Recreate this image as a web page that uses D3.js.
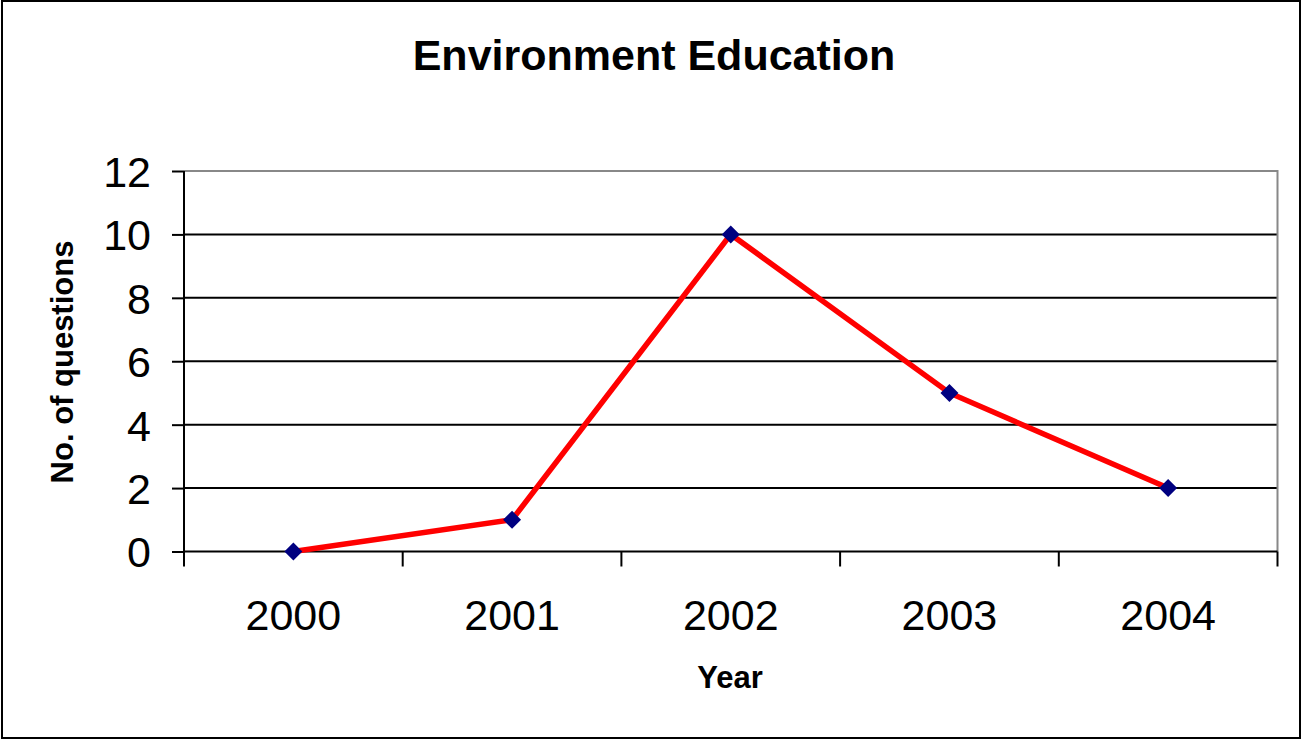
<!DOCTYPE html>
<html><head><meta charset="utf-8">
<script src="https://cdn.jsdelivr.net/npm/d3@7"></script>
<style>body{margin:0;background:#fff}svg{display:block}</style>
</head><body>
<svg id="c" width="1302" height="740"></svg>
<script>
const years = ["2000","2001","2002","2003","2004"];
const questions = [0,1,10,5,2];
const yTicks = [0,2,4,6,8,10,12];
const title = "Environment Education";
const xTitle = "Year";
const yTitle = "No. of questions";

const svg = d3.select("#c");
const font = "'Liberation Sans', Arial, sans-serif";
const L = 184, R = 1277.5, T = 171, B = 551.5;

svg.append("rect").attr("x",2).attr("y",1).attr("width",1298).attr("height",737)
  .attr("fill","#fff").attr("stroke","#000").attr("stroke-width",2);

const x = d3.scaleBand().domain(years).range([L,R]);
const y = d3.scaleLinear().domain([0,12]).range([B,T]);

// gridlines
svg.append("g").selectAll("line").data(yTicks.filter(d=>d>0 && d<12)).join("line")
  .attr("x1",L).attr("x2",R).attr("y1",d=>y(d)).attr("y2",d=>y(d))
  .attr("stroke","#000").attr("stroke-width",2);
// plot border top & right (gray)
svg.append("path").attr("d",`M${L},${y(12)}H${R}V${B}`).attr("fill","none")
  .attr("stroke","#888").attr("stroke-width",2);

// y axis
const ya = svg.append("g").attr("transform",`translate(${L},0)`)
  .call(d3.axisLeft(y).tickValues(yTicks).tickSize(12).tickPadding(21));
ya.select(".domain").attr("stroke","#000").attr("stroke-width",2).attr("d",`M0,${T}V${B}`);
ya.selectAll(".tick line").attr("stroke","#000").attr("stroke-width",2);
ya.selectAll("text").attr("font-family",font).attr("font-size",43).attr("fill","#000").attr("dy","0.36em");

// x axis
const xa = svg.append("g").attr("transform",`translate(0,${B})`)
  .call(d3.axisBottom(x).tickSize(0).tickPadding(48));
xa.select(".domain").attr("stroke","#000").attr("stroke-width",2).attr("d",`M${L},0H${R}`);
xa.selectAll("text").attr("font-family",font).attr("font-size",43).attr("fill","#000");
// boundary ticks
const bounds = years.map(d=>x(d)).concat([x(years[years.length-1])+x.bandwidth()]);
svg.append("g").selectAll("line").data(bounds).join("line")
  .attr("x1",d=>d).attr("x2",d=>d).attr("y1",B).attr("y2",B+15)
  .attr("stroke","#000").attr("stroke-width",2);

// line
const cx = d=>x(d)+x.bandwidth()/2;
svg.append("path").datum(years.map((d,i)=>[cx(d),y(questions[i])]))
  .attr("d",d3.line()).attr("fill","none").attr("stroke","#ff0000").attr("stroke-width",5.5)
  .attr("stroke-linejoin","miter");
svg.append("g").selectAll("path").data(years).join("path")
  .attr("transform",(d,i)=>`translate(${cx(d)},${y(questions[i])})`)
  .attr("d","M0,-9L9,0L0,9L-9,0Z").attr("fill","#000080");

// titles
svg.append("text").attr("x",654).attr("y",70).attr("text-anchor","middle")
  .attr("font-family",font).attr("font-weight","bold").attr("font-size",43).text(title);
svg.append("text").attr("x",730).attr("y",688).attr("text-anchor","middle")
  .attr("font-family",font).attr("font-weight","bold").attr("font-size",31).text(xTitle);
svg.append("text").attr("transform","translate(73,362) rotate(-90)").attr("text-anchor","middle")
  .attr("font-family",font).attr("font-weight","bold").attr("font-size",31).text(yTitle);
</script>
</body></html>
